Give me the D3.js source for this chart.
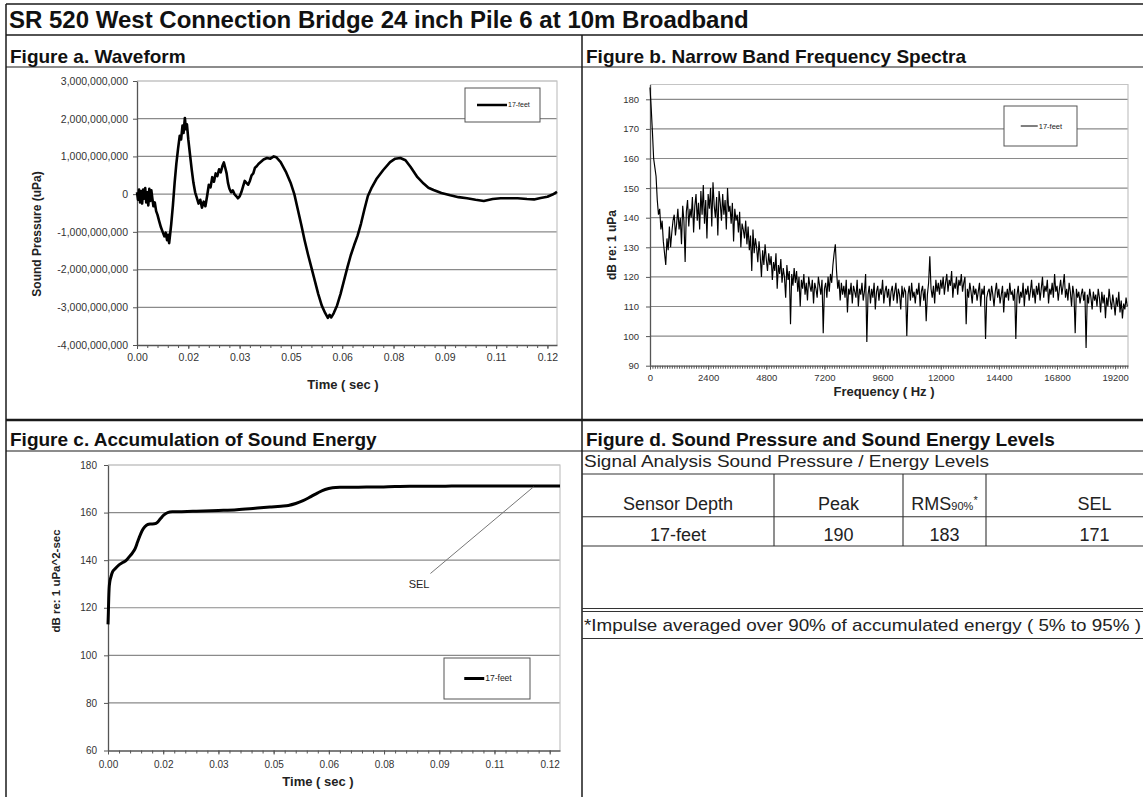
<!DOCTYPE html>
<html>
<head>
<meta charset="utf-8">
<script src="https://cdn.jsdelivr.net/npm/d3@7"></script>
<style>
  body { margin: 0; background: #fff; }
  svg { display: block; font-family: Arial, "Liberation Sans", sans-serif; }
</style>
</head>
<body>
<svg id="canvas" width="1143" height="797"></svg>
<script>
let pageTitle = "SR 520 West Connection Bridge 24 inch Pile 6 at 10m Broadband";
let panelTitles = ["Figure a. Waveform", "Figure b. Narrow Band Frequency Spectra",
                   "Figure c. Accumulation of Sound Energy", "Figure d. Sound Pressure and Sound Energy Levels"];
let seriesName = "17-feet";

// waveform: [time (sec), sound pressure (uPa)]
let waveform = [
  [0.0000, 0.05e9], [0.0003, -0.15e9], [0.0006, 0.12e9], [0.0009, -0.22e9], [0.0012, 0.08e9], [0.0015, -0.25e9],
  [0.0018, 0.12e9], [0.0021, -0.12e9], [0.0024, 0.16e9], [0.0027, -0.22e9], [0.0030, 0.05e9], [0.0033, -0.30e9],
  [0.0036, 0.14e9], [0.0039, -0.18e9], [0.0042, 0.10e9], [0.0045, -0.12e9], [0.0048, -0.32e9], [0.0052, -0.22e9],
  [0.0056, -0.45e9], [0.0060, -0.55e9], [0.0065, -0.72e9], [0.0070, -0.88e9], [0.0075, -1.00e9], [0.0080, -1.12e9],
  [0.0084, -1.02e9], [0.0088, -1.22e9], [0.0091, -1.08e9], [0.0094, -1.30e9], [0.0097, -1.05e9], [0.0100, -0.80e9],
  [0.0105, -0.30e9], [0.0110, 0.30e9], [0.0115, 0.80e9], [0.0120, 1.20e9], [0.0125, 1.55e9], [0.0129, 1.45e9],
  [0.0133, 1.82e9], [0.0136, 1.62e9], [0.0140, 2.02e9], [0.0143, 1.72e9], [0.0146, 1.85e9], [0.0150, 1.45e9],
  [0.0155, 1.05e9], [0.0160, 0.65e9], [0.0165, 0.30e9], [0.0170, 0.05e9], [0.0175, -0.10e9], [0.0180, -0.25e9],
  [0.0185, -0.15e9], [0.0190, -0.36e9], [0.0195, -0.20e9], [0.0200, -0.32e9], [0.0205, -0.05e9], [0.0210, 0.25e9],
  [0.0215, 0.18e9], [0.0220, 0.45e9], [0.0225, 0.33e9], [0.0230, 0.55e9], [0.0235, 0.48e9], [0.0240, 0.66e9],
  [0.0245, 0.58e9], [0.0250, 0.75e9], [0.0254, 0.84e9], [0.0258, 0.70e9], [0.0262, 0.55e9], [0.0266, 0.30e9],
  [0.0270, 0.15e9], [0.0275, 0.05e9], [0.0280, 0.10e9], [0.0285, 0.00e9], [0.0290, -0.05e9], [0.0295, -0.11e9],
  [0.0300, -0.06e9], [0.0305, 0.05e9], [0.0310, 0.20e9], [0.0315, 0.35e9], [0.0320, 0.30e9], [0.0325, 0.25e9],
  [0.0330, 0.35e9], [0.0335, 0.50e9], [0.0340, 0.55e9], [0.0345, 0.70e9], [0.0350, 0.74e9], [0.0355, 0.80e9],
  [0.0360, 0.84e9], [0.0370, 0.92e9], [0.0380, 0.96e9], [0.0390, 0.94e9], [0.0400, 1.00e9], [0.0407, 0.98e9],
  [0.0420, 0.85e9], [0.0435, 0.60e9], [0.0450, 0.28e9], [0.0460, 0.00e9], [0.0470, -0.40e9], [0.0480, -0.80e9],
  [0.0490, -1.22e9], [0.0500, -1.60e9], [0.0510, -1.95e9], [0.0520, -2.30e9], [0.0530, -2.65e9], [0.0540, -2.95e9],
  [0.0550, -3.15e9], [0.0558, -3.28e9], [0.0563, -3.20e9], [0.0568, -3.27e9], [0.0575, -3.16e9], [0.0585, -2.95e9],
  [0.0595, -2.65e9], [0.0605, -2.30e9], [0.0615, -1.95e9], [0.0625, -1.62e9], [0.0635, -1.35e9], [0.0645, -1.10e9],
  [0.0655, -0.78e9], [0.0665, -0.40e9], [0.0675, -0.05e9], [0.0685, 0.15e9], [0.0700, 0.40e9], [0.0720, 0.64e9],
  [0.0740, 0.85e9], [0.0755, 0.94e9], [0.0770, 0.96e9], [0.0785, 0.90e9], [0.0800, 0.72e9], [0.0820, 0.45e9],
  [0.0838, 0.28e9], [0.0852, 0.17e9], [0.0867, 0.11e9], [0.0890, 0.03e9], [0.0916, -0.03e9], [0.0940, -0.08e9],
  [0.0965, -0.11e9], [0.0990, -0.15e9], [0.1014, -0.18e9], [0.1040, -0.13e9], [0.1063, -0.11e9], [0.1090, -0.11e9],
  [0.1113, -0.11e9], [0.1140, -0.13e9], [0.1161, -0.14e9], [0.1180, -0.10e9], [0.1200, -0.07e9], [0.1215, -0.01e9],
  [0.1228, 0.06e9]
];

// narrow band spectrum, dB re 1 uPa, one value every 50 Hz from 0 Hz
let spectrumStepHz = 50;
let spectrumDb = [
  184, 177, 169, 160, 157, 154, 146, 141, 143, 136, 139, 132, 128, 124, 133, 129, 137, 130, 135, 139,
  141, 134, 138, 143, 136, 140, 131, 144, 139, 125, 142, 146, 137, 143, 140, 147, 135, 144, 148, 139,
  145, 136, 149, 141, 151, 138, 146, 133, 148, 143, 150, 137, 152, 144, 140, 147, 134, 149, 145, 139,
  148, 141, 146, 136, 150, 142, 144, 138, 145, 132, 143, 139, 141, 135, 142, 130, 138, 136, 133, 139,
  131, 137, 129, 134, 122, 136, 128, 133, 130, 125, 132, 127, 120, 129, 124, 131, 126, 122, 128, 124,
  127, 119, 125, 122, 128, 116, 124, 121, 126, 118, 123, 120, 113, 124, 119, 122, 104, 121, 117, 123,
  118, 122, 115, 120, 110, 119, 116, 121, 114, 118, 112, 120, 117, 115, 119, 111, 118, 116, 113, 120,
  117, 114, 119, 101, 116, 118, 113, 120, 115, 121, 118, 124, 128, 131, 122, 116, 119, 112, 118, 114,
  117, 113, 119, 108, 116, 114, 118, 111, 117, 115, 113, 119, 110, 116, 114, 118, 112, 115, 121, 98,
  114, 117, 111, 116, 113, 118, 109, 115, 117, 112, 116, 114, 119, 111, 115, 117, 113, 116, 110, 115,
  117, 112, 115, 118, 111, 116, 114, 109, 117, 113, 116, 115, 100, 114, 117, 112, 118, 113, 115, 111,
  116, 114, 118, 110, 115, 117, 112, 116, 105, 114, 118, 127, 116, 113, 117, 111, 119, 115, 118, 114,
  119, 116, 120, 114, 118, 121, 115, 119, 117, 122, 113, 118, 116, 120, 114, 119, 117, 121, 115, 118,
  120, 104, 116, 113, 118, 115, 111, 117, 114, 116, 112, 115, 118, 110, 116, 114, 117, 99, 113, 115,
  116, 112, 117, 114, 110, 115, 118, 113, 116, 111, 114, 117, 108, 115, 113, 116, 112, 118, 114, 115,
  112, 116, 99, 114, 117, 111, 115, 113, 118, 110, 116, 114, 117, 112, 115, 119, 113, 116, 111, 117,
  114, 118, 112, 116, 120, 113, 117, 115, 119, 111, 116, 114, 118, 113, 121, 115, 117, 112, 116, 119,
  114, 117, 121, 113, 116, 112, 118, 115, 110, 117, 114, 101, 116, 113, 115, 111, 114, 116, 112, 115,
  96, 114, 111, 116, 113, 109, 115, 112, 114, 110, 116, 113, 108, 115, 111, 114, 106, 113, 110, 116,
  112, 109, 114, 111, 107, 113, 110, 115, 108, 112, 106, 111, 109, 113, 110
];

// accumulated energy: [time (sec), dB re 1 uPa^2-sec]
let energy = [
  [0.0000, 113], [0.0001, 118], [0.0002, 124], [0.0003, 128], [0.0005, 131], [0.0008, 133], [0.0012, 135],
  [0.0020, 136.5], [0.0030, 138], [0.0040, 139], [0.0050, 140], [0.0058, 141.5], [0.0066, 143], [0.0074, 145],
  [0.0080, 147.5], [0.0086, 150], [0.0093, 152.5], [0.0100, 154], [0.0108, 155], [0.0116, 155.2], [0.0126, 155.3],
  [0.0135, 156], [0.0143, 157.5], [0.0152, 159], [0.0162, 160], [0.0175, 160.3], [0.0200, 160.4], [0.0240, 160.6],
  [0.0300, 160.9], [0.0350, 161.2], [0.0400, 161.8], [0.0440, 162.3], [0.0470, 162.7], [0.0490, 163],
  [0.0510, 163.8], [0.0530, 165], [0.0550, 166.6], [0.0570, 168.3], [0.0590, 169.7], [0.0610, 170.4],
  [0.0630, 170.6], [0.0680, 170.7], [0.0740, 170.8], [0.0780, 171], [0.0820, 171.1], [0.0900, 171.1],
  [0.1000, 171.2], [0.1100, 171.2], [0.1228, 171.2]
];
let selNote = { label: "SEL", labelAt: [0.0845, 128.4], from: [0.0876, 134.4], to: [0.1156, 170.8] };

let timeTicks = [0, 0.015, 0.03, 0.045, 0.06, 0.075, 0.09, 0.105, 0.12];
let timeTickLabels = ["0.00", "0.02", "0.03", "0.05", "0.06", "0.08", "0.09", "0.11", "0.12"];
let pressureTicks = [3e9, 2e9, 1e9, 0, -1e9, -2e9, -3e9, -4e9];
let freqTicks = [0, 2400, 4800, 7200, 9600, 12000, 14400, 16800, 19200];
let dbTicks = [90, 100, 110, 120, 130, 140, 150, 160, 170, 180];
let energyTicks = [60, 80, 100, 120, 140, 160, 180];

let tableCaption = "Signal Analysis Sound Pressure / Energy Levels";
let tableHeader = ["Sensor Depth", "Peak", "RMS", "SEL"];
let tableRow = ["17-feet", "190", "183", "171"];
let footnote = "*Impulse averaged over 90% of accumulated energy ( 5% to 95% )";

let svg = d3.select("#canvas");
let gridColor = "#8a8a8a";
let axisColor = "#555";
let frameColor = "#c4c4c4";
let labelColor = "#333";

let locale = d3.formatLocale({decimal: ".", thousands: ",", grouping: [3], currency: ["$", ""], minus: "-"});
let commaFmt = locale.format(",");

let drawFrame = () => {
  // [x1, y1, x2, y2, width]
  let rules = [
    [6, 4, 1143, 4, 1.5], [6, 4, 6, 797, 1.5], [6, 35, 1143, 35, 1.5], [6, 67, 1143, 67, 1.2],
    [582, 35, 582, 797, 1.5], [6, 420, 1143, 420, 2.5], [6, 451, 1143, 451, 1.2]
  ];
  svg.append("g").selectAll("line")
    .data(rules).enter().append("line")
    .attr("x1", d => d[0]).attr("y1", d => d[1]).attr("x2", d => d[2]).attr("y2", d => d[3])
    .attr("stroke", "#1a1a1a").attr("stroke-width", d => d[4]);

  svg.append("text").attr("x", 9).attr("y", 28)
    .attr("font-size", 24).attr("font-weight", "bold").attr("fill", "#111")
    .text(pageTitle);

  let heads = [[10, 62.5], [586, 62.5], [10, 446], [586, 446]];
  svg.append("g").selectAll("text")
    .data(panelTitles).enter().append("text")
    .attr("x", (d, i) => heads[i][0]).attr("y", (d, i) => heads[i][1])
    .attr("font-size", 19).attr("font-weight", "bold").attr("fill", "#111")
    .text(d => d);
}

let makePlot = (box, xDomain, yDomain, o) => {
  let x = d3.scaleLinear().domain(xDomain).range([box.left, box.right]);
  let y = d3.scaleLinear().domain(yDomain).range([box.bottom, box.top]);
  let g = svg.append("g");

  // horizontal gridlines, the top one is the pale plot border
  g.append("g").selectAll("line")
    .data(o.yTicks.filter(v => v > yDomain[0]))
    .enter().append("line")
    .attr("x1", box.left).attr("x2", box.right)
    .attr("y1", d => y(d)).attr("y2", d => y(d))
    .attr("stroke", d => d === yDomain[1] ? frameColor : gridColor)
    .attr("stroke-width", 1.2);

  g.append("path")
    .attr("d", `M${box.left},${box.top}H${box.right}V${box.bottom}`)
    .attr("fill", "none").attr("stroke", frameColor).attr("stroke-width", 1.2);

  // minor ticks under the x axis
  g.append("g").attr("transform", `translate(0,${box.bottom})`)
    .call(d3.axisBottom(x).tickValues(o.xMinor).tickSize(3).tickFormat(""))
    .call(a => a.select(".domain").remove())
    .selectAll("line").attr("stroke", axisColor);

  let xa = g.append("g").attr("transform", `translate(0,${box.bottom})`)
    .call(d3.axisBottom(x).tickValues(o.xTicks).tickSize(4).tickSizeOuter(0).tickPadding(o.xPad).tickFormat(o.xFormat));
  let ya = g.append("g").attr("transform", `translate(${box.left},0)`)
    .call(d3.axisLeft(y).tickValues(o.yTicks).tickSize(4).tickSizeOuter(0).tickPadding(o.yPad).tickFormat(o.yFormat));

  [xa, ya].forEach(a => {
    a.select(".domain").attr("stroke", axisColor).attr("stroke-width", 1.3);
    a.selectAll(".tick line").attr("stroke", axisColor);
    a.selectAll("text").attr("font-family", "Arial, 'Liberation Sans', sans-serif")
      .attr("font-size", o.tickFont).attr("fill", labelColor);
  });

  g.append("text")
    .attr("x", o.xTitle[1]).attr("y", o.xTitle[2])
    .attr("text-anchor", "middle").attr("font-size", 13).attr("font-weight", "bold").attr("fill", "#222")
    .text(o.xTitle[0]);
  g.append("text")
    .attr("transform", `translate(${o.yTitle[1]},${o.yTitle[2]}) rotate(-90)`)
    .attr("text-anchor", "middle").attr("dy", "0.35em")
    .attr("font-size", o.yTitle[3]).attr("font-weight", "bold").attr("fill", "#222")
    .text(o.yTitle[0]);

  return { g, x, y };
}

let drawLegend = (g, box, lineLen, strokeW, fontSize) => {
  g.append("rect")
    .attr("x", box[0]).attr("y", box[1]).attr("width", box[2]).attr("height", box[3])
    .attr("fill", "#fff").attr("stroke", "#555").attr("stroke-width", 1);
  let cy = box[1] + box[3] / 2;
  let lx = box[0] + (box[2] - lineLen - fontSize * 3) / 2;
  g.append("line")
    .attr("x1", lx).attr("x2", lx + lineLen).attr("y1", cy).attr("y2", cy)
    .attr("stroke", "#000").attr("stroke-width", strokeW);
  g.append("text")
    .attr("x", lx + lineLen + 1).attr("y", cy).attr("dy", "0.35em")
    .attr("font-size", fontSize).attr("fill", "#222")
    .text(seriesName);
}

let timeLabel = d => timeTickLabels[timeTicks.indexOf(d)];

let drawWaveform = () => {
  let p = makePlot({left: 137, right: 557, top: 81, bottom: 345}, [0, 0.1228], [-4e9, 3e9], {
    xTicks: timeTicks, xMinor: d3.range(0, 0.1228, 0.003), xFormat: timeLabel, xPad: 5,
    yTicks: pressureTicks, yFormat: commaFmt, yPad: 5, tickFont: 10.5,
    xTitle: ["Time ( sec )", 343, 389], yTitle: ["Sound Pressure (uPa)", 37, 234, 12]
  });
  p.g.append("path")
    .datum(waveform)
    .attr("d", d3.line().x(d => p.x(d[0])).y(d => p.y(d[1])))
    .attr("fill", "none").attr("stroke", "#000").attr("stroke-width", 2.6).attr("stroke-linejoin", "round");
  drawLegend(p.g, [465, 88, 75, 34], 30, 2.5, 7);
}

let drawSpectrum = () => {
  let p = makePlot({left: 650, right: 1128, top: 84.5, bottom: 365.7}, [0, 19730], [90, 185], {
    xTicks: freqTicks, xMinor: d3.range(0, 19730, 100), xFormat: d3.format("d"), xPad: 5,
    yTicks: dbTicks, yFormat: d3.format("d"), yPad: 7, tickFont: 9.5,
    xTitle: ["Frequency ( Hz )", 884, 396], yTitle: ["dB re: 1 uPa", 612, 245, 12]
  });
  p.g.append("path")
    .datum(spectrumDb)
    .attr("d", d3.line().x((d, i) => p.x(i * spectrumStepHz)).y(d => p.y(d)))
    .attr("fill", "none").attr("stroke", "#000").attr("stroke-width", 1.15);
  drawLegend(p.g, [1004, 106, 73, 40], 17, 1, 7.5);
}

let drawEnergy = () => {
  let p = makePlot({left: 108, right: 560, top: 465, bottom: 750.5}, [0, 0.1228], [60, 180], {
    xTicks: timeTicks, xMinor: d3.range(0, 0.1228, 0.003), xFormat: timeLabel, xPad: 6,
    yTicks: energyTicks, yFormat: d3.format("d"), yPad: 7, tickFont: 10,
    xTitle: ["Time ( sec )", 318, 786], yTitle: ["dB re: 1 uPa^2-sec", 56, 581, 11.5]
  });
  p.g.append("path")
    .datum(energy)
    .attr("d", d3.line().curve(d3.curveMonotoneX).x(d => p.x(d[0])).y(d => p.y(d[1])))
    .attr("fill", "none").attr("stroke", "#000").attr("stroke-width", 3);

  p.g.append("line")
    .attr("x1", p.x(selNote.from[0])).attr("y1", p.y(selNote.from[1]))
    .attr("x2", p.x(selNote.to[0])).attr("y2", p.y(selNote.to[1]))
    .attr("stroke", "#777").attr("stroke-width", 1);
  p.g.append("text")
    .attr("x", p.x(selNote.labelAt[0])).attr("y", p.y(selNote.labelAt[1]))
    .attr("text-anchor", "middle").attr("font-size", 11).attr("fill", "#222")
    .text(selNote.label);
  drawLegend(p.g, [444, 658, 86, 41], 20, 3, 8.5);
}

let drawTable = () => {
  let g = svg.append("g");
  let cols = [582, 774, 903, 986, 1203];
  let rules = [[582, 474, 1143, 474], [582, 516.7, 1143, 516.7], [582, 546, 1143, 546],
               [582, 608.5, 1143, 608.5], [582, 611.5, 1143, 611.5], [582, 638.5, 1143, 638.5],
               [774, 474, 774, 546], [903, 474, 903, 546], [986, 474, 986, 546]];
  g.selectAll("line").data(rules).enter().append("line")
    .attr("x1", d => d[0]).attr("y1", d => d[1]).attr("x2", d => d[2]).attr("y2", d => d[3])
    .attr("stroke", "#333").attr("stroke-width", 1.1);

  g.append("text").attr("x", 584).attr("y", 466.5)
    .attr("font-size", 17).attr("fill", "#222")
    .attr("textLength", 405).attr("lengthAdjust", "spacingAndGlyphs")
    .text(tableCaption);

  let center = i => (cols[i] + cols[i + 1]) / 2;
  tableHeader.forEach((h, i) => {
    let t = g.append("text").attr("x", center(i)).attr("y", 510)
      .attr("text-anchor", "middle").attr("font-size", 18).attr("fill", "#222");
    t.append("tspan").text(h);
    if (h === "RMS") {
      t.append("tspan").attr("font-size", 11).text("90%");
      t.append("tspan").attr("font-size", 11).attr("dy", -6).text("*");
    }
  });
  g.selectAll(".cell").data(tableRow).enter().append("text")
    .attr("x", (d, i) => center(i)).attr("y", 540.5)
    .attr("text-anchor", "middle").attr("font-size", 18).attr("fill", "#222")
    .text(d => d);

  g.append("text").attr("x", 584).attr("y", 631)
    .attr("font-size", 17).attr("fill", "#222")
    .attr("textLength", 557).attr("lengthAdjust", "spacingAndGlyphs")
    .text(footnote);
}

drawFrame();
drawWaveform();
drawSpectrum();
drawEnergy();
drawTable();
</script>
</body>
</html>
